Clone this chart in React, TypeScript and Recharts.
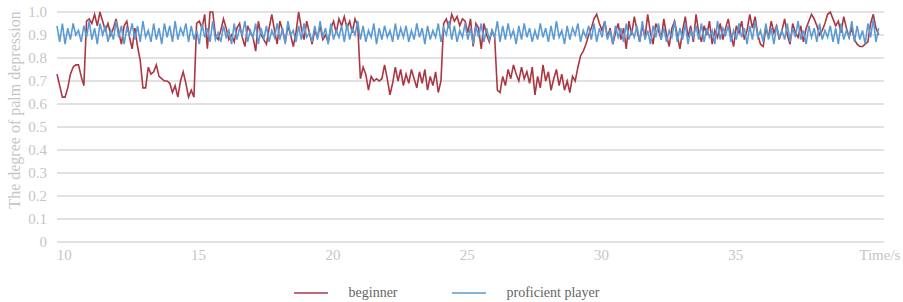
import { CartesianGrid, Legend, Line, LineChart, XAxis, YAxis } from "recharts";

// sampled every 0.1 s starting at 9.8 s
const START_TIME = 9.8;
const STEP = 0.1;

const beginner = [
  0.73, 0.68, 0.63, 0.63, 0.67, 0.73, 0.76, 0.77, 0.77, 0.72,
  0.68, 0.96, 0.97, 0.95, 0.99, 0.94, 1.0, 0.96, 0.92, 0.95,
  0.9, 0.93, 0.97, 0.91, 0.86, 0.94, 0.96, 0.89, 0.84, 0.93,
  0.85, 0.79, 0.67, 0.67, 0.76, 0.73, 0.74, 0.77, 0.72, 0.71,
  0.7, 0.7, 0.69, 0.65, 0.68, 0.63, 0.7, 0.74, 0.69, 0.63,
  0.66, 0.63, 0.95, 0.96, 0.93, 0.99, 0.84, 1.0, 1.0, 0.9,
  0.88, 0.92, 0.97, 0.93, 0.88, 0.9, 0.87, 0.93, 0.95, 0.89,
  0.85, 0.94, 0.91, 0.89, 0.83, 0.96, 0.9, 0.88, 0.86, 0.93,
  0.99, 0.92, 0.86, 0.96, 0.92, 0.87, 0.94, 0.9, 0.85, 0.91,
  1.0, 0.93, 0.88, 0.96, 0.91, 0.86, 0.92, 0.89, 0.94, 0.88,
  0.9, 0.87, 0.93, 0.96, 0.91, 0.97, 0.94, 0.98, 0.93, 0.96,
  0.91, 0.97, 0.94, 0.71, 0.76, 0.73, 0.66, 0.72, 0.7, 0.71,
  0.7, 0.71, 0.77, 0.71, 0.64, 0.69, 0.76, 0.7, 0.75, 0.68,
  0.73, 0.69, 0.75, 0.71, 0.67, 0.74, 0.69, 0.75, 0.66, 0.72,
  0.68, 0.74, 0.65, 0.7, 0.95, 0.97, 0.93, 0.99, 0.96, 0.98,
  0.94, 0.97, 0.96, 0.91, 0.97, 0.85, 0.95, 0.93, 0.84, 0.95,
  0.9, 0.87, 0.92, 0.89, 0.66, 0.65, 0.72, 0.68, 0.75, 0.71,
  0.77, 0.73, 0.7, 0.76, 0.71, 0.74, 0.69, 0.76, 0.64, 0.72,
  0.67, 0.77, 0.7, 0.74, 0.66, 0.71, 0.75, 0.68, 0.73, 0.66,
  0.7, 0.65, 0.72, 0.7, 0.76, 0.81, 0.83, 0.86, 0.9, 0.93,
  0.97, 0.99, 0.95, 0.92, 0.96, 0.89, 0.93, 0.86, 0.91, 0.95,
  0.88, 0.93, 0.84, 0.96, 0.9, 0.98, 0.92, 0.87, 0.94, 0.89,
  0.99, 0.91, 0.86, 0.95, 0.92, 0.88, 0.97, 0.9, 0.85, 0.93,
  0.96, 0.9, 0.84, 0.92, 0.98, 0.89, 0.94, 0.87, 0.99, 0.91,
  0.87, 0.94, 0.9, 0.96, 0.86, 0.92, 0.89, 0.95, 0.88, 0.93,
  0.97, 0.9, 0.85, 0.94, 0.91, 0.96, 0.88, 0.92, 0.99, 0.93,
  0.98, 0.9, 0.86, 0.85, 0.93, 0.89, 0.96, 0.91, 0.94, 0.88,
  0.92, 0.97, 0.9, 0.86, 0.95, 0.91, 0.89, 0.94, 0.87, 0.93,
  0.96, 0.99, 0.97, 0.94, 0.9, 0.92, 0.95, 0.99, 1.0, 0.97,
  0.94, 0.96, 0.91, 0.98, 0.93, 0.89, 0.93, 0.88, 0.86, 0.85,
  0.85, 0.86, 0.87, 0.95, 0.99, 0.93, 0.9,
];

const proficient = [
  0.94, 0.87, 0.95, 0.86, 0.93, 0.88, 0.95, 0.9, 0.92, 0.87,
  0.94, 0.89, 0.96, 0.88, 0.93, 0.86, 0.95, 0.9, 0.94, 0.87,
  0.92, 0.88, 0.96, 0.89, 0.94, 0.86, 0.93, 0.9, 0.95, 0.88,
  0.94, 0.87, 0.96, 0.89, 0.92, 0.87, 0.95, 0.88, 0.93, 0.86,
  0.95, 0.89, 0.94, 0.87, 0.96, 0.88, 0.93, 0.9, 0.95, 0.87,
  0.94, 0.88, 0.92, 0.86, 0.95, 0.89, 0.93, 0.87, 0.96, 0.88,
  0.91, 0.87, 0.94, 0.89, 0.92, 0.86, 0.95, 0.88, 0.93, 0.9,
  0.96, 0.87, 0.92, 0.89, 0.95, 0.86, 0.93, 0.88, 0.94, 0.87,
  0.92, 0.89, 0.95, 0.88, 0.93, 0.86, 0.96, 0.9, 0.92, 0.87,
  0.94, 0.88, 0.95, 0.89, 0.91, 0.87, 0.94, 0.88, 0.96, 0.89,
  0.93, 0.86, 0.95, 0.88, 0.92, 0.89, 0.94, 0.87, 0.95, 0.88,
  0.93, 0.9, 0.96, 0.88, 0.94, 0.87, 0.92, 0.89, 0.95, 0.86,
  0.93, 0.88, 0.94, 0.89, 0.92, 0.87, 0.95, 0.88, 0.93, 0.89,
  0.94, 0.87, 0.92, 0.88, 0.95, 0.89, 0.93, 0.86, 0.94, 0.88,
  0.92, 0.89, 0.95, 0.87, 0.93, 0.9, 0.96, 0.88, 0.94, 0.87,
  0.92, 0.89, 0.95, 0.88, 0.93, 0.86, 0.94, 0.89, 0.95, 0.87,
  0.93, 0.88, 0.92, 0.89, 0.96, 0.87, 0.94, 0.88, 0.95, 0.89,
  0.92, 0.86, 0.94, 0.88, 0.95, 0.89, 0.93, 0.87, 0.92, 0.88,
  0.95, 0.89, 0.93, 0.87, 0.94, 0.88, 0.96, 0.89, 0.92, 0.86,
  0.94, 0.88, 0.93, 0.9, 0.95, 0.87, 0.92, 0.89, 0.94, 0.88,
  0.95, 0.87, 0.93, 0.89, 0.96, 0.88, 0.92, 0.86, 0.94, 0.89,
  0.93, 0.87, 0.95, 0.88, 0.92, 0.89, 0.94, 0.87, 0.96, 0.88,
  0.92, 0.86, 0.94, 0.89, 0.95, 0.88, 0.93, 0.87, 0.92, 0.89,
  0.96, 0.87, 0.93, 0.88, 0.95, 0.86, 0.92, 0.89, 0.94, 0.88,
  0.95, 0.87, 0.93, 0.89, 0.92, 0.86, 0.96, 0.88, 0.93, 0.9,
  0.94, 0.87, 0.92, 0.88, 0.95, 0.89, 0.93, 0.86, 0.94, 0.88,
  0.96, 0.89, 0.92, 0.87, 0.95, 0.88, 0.93, 0.86, 0.94, 0.89,
  0.92, 0.88, 0.95, 0.87, 0.93, 0.89, 0.96, 0.88, 0.92, 0.86,
  0.94, 0.89, 0.93, 0.87, 0.95, 0.88, 0.92, 0.89, 0.94, 0.87,
  0.93, 0.86, 0.95, 0.88, 0.92, 0.89, 0.96, 0.87, 0.94, 0.88,
  0.92, 0.86, 0.95, 0.89, 0.97, 0.87, 0.93,
];

const xTicks = [10, 15, 20, 25, 30, 35, 40];
const yTicks = [0, 0.1, 0.2, 0.3, 0.4, 0.5, 0.6, 0.7, 0.8, 0.9, 1.0];

const BEGINNER_COLOR = "#ab3742";
const PRO_COLOR = "#5b9bd5";
const FONT = "'Liberation Serif', 'DejaVu Serif', serif";
const TICK_COLOR = "#c6c6c6";

const data = beginner.map((b, i) => ({
  t: Number((START_TIME + i * STEP).toFixed(1)),
  beginner: b,
  proficient: proficient[i],
}));

function TimeTick({ x, y, payload }: any) {
  const last = payload.value === 40;
  return (
    <text
      x={x}
      y={y}
      dy={10}
      dx={last ? 12 : 2}
      textAnchor="middle"
      fill={TICK_COLOR}
      fontSize={15}
      fontFamily={FONT}
    >
      {last ? "Time/s" : payload.value}
    </text>
  );
}

function YTitle({ viewBox }: any) {
  const cx = viewBox.x + 14;
  const cy = viewBox.y + viewBox.height / 2 - 17;
  return (
    <text
      x={cx}
      y={cy}
      transform={`rotate(-90 ${cx} ${cy})`}
      textAnchor="middle"
      dominantBaseline="central"
      fill={TICK_COLOR}
      fontSize={16}
      fontFamily={FONT}
    >
      The degree of palm depression
    </text>
  );
}

function LegendRow() {
  const items = [
    { name: "beginner", color: "#c06a76" },
    { name: "proficient player", color: "#86b2da" },
  ];
  return (
    <div
      style={{
        display: "flex",
        justifyContent: "center",
        alignItems: "center",
        gap: 54,
        height: 30,
        paddingLeft: 9,
        paddingTop: 6,
        fontFamily: FONT,
        fontSize: 14,
        color: "#666",
      }}
    >
      {items.map((it) => (
        <div key={it.name} style={{ display: "flex", alignItems: "center" }}>
          <svg width={34} height={4}>
            <line x1={0} y1={2} x2={34} y2={2} stroke={it.color} strokeWidth={2} />
          </svg>
          <span style={{ marginLeft: 21 }}>{it.name}</span>
        </div>
      ))}
    </div>
  );
}

export default function App() {
  return (
    <div style={{ position: "absolute", left: 0, top: 0, background: "#fff" }}>
      <LineChart
        width={903}
        height={302}
        data={data}
        margin={{ top: 12, right: 19, bottom: 0, left: 0 }}
      >
        <CartesianGrid vertical={false} stroke="#d9d9d9" strokeWidth={1.5} />
        <XAxis
          dataKey="t"
          type="number"
          domain={[9.8, 40.6]}
          ticks={xTicks}
          interval={0}
          axisLine={false}
          tickLine={false}
          height={30}
          tick={<TimeTick />}
        />
        <YAxis
          domain={[0, 1]}
          ticks={yTicks}
          interval={0}
          width={57}
          axisLine={false}
          tickLine={false}
          tickMargin={4}
          tick={{ fill: TICK_COLOR, fontSize: 15, fontFamily: FONT }}
          tickFormatter={(v: number) => (v === 0 ? "0" : v.toFixed(1))}
          label={<YTitle />}
        />
        <Legend verticalAlign="bottom" height={30} content={() => <LegendRow />} />
        <Line
          dataKey="beginner"
          stroke={BEGINNER_COLOR}
          strokeWidth={1.6}
          dot={false}
          isAnimationActive={false}
        />
        <Line
          dataKey="proficient"
          stroke={PRO_COLOR}
          strokeWidth={1.6}
          dot={false}
          isAnimationActive={false}
        />
      </LineChart>
    </div>
  );
}
